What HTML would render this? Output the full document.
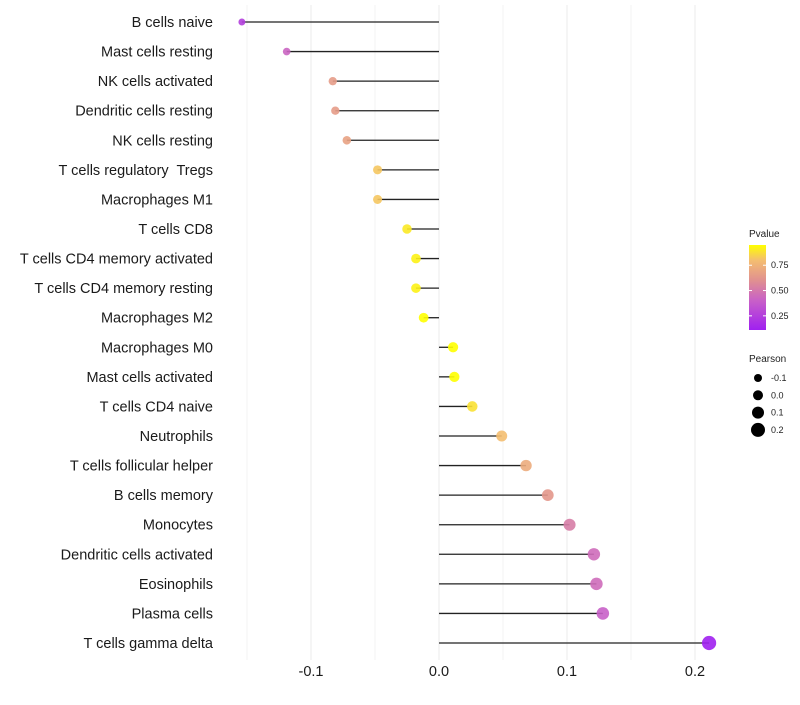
<!DOCTYPE html>
<html><head><meta charset="utf-8"><style>
body{margin:0;background:#fff;font-family:"Liberation Sans",sans-serif}
text{white-space:pre}
</style></head><body>
<svg id="c" width="800" height="700" xmlns="http://www.w3.org/2000/svg"></svg>
<script>
const categories=["B cells naive","Mast cells resting","NK cells activated","Dendritic cells resting","NK cells resting","T cells regulatory  Tregs","Macrophages M1","T cells CD8","T cells CD4 memory activated","T cells CD4 memory resting","Macrophages M2","Macrophages M0","Mast cells activated","T cells CD4 naive","Neutrophils","T cells follicular helper","B cells memory","Monocytes","Dendritic cells activated","Eosinophils","Plasma cells","T cells gamma delta"];
const pearson=[-0.154,-0.119,-0.083,-0.081,-0.072,-0.048,-0.048,-0.025,-0.018,-0.018,-0.012,0.011,0.012,0.026,0.049,0.068,0.085,0.102,0.121,0.123,0.128,0.211];
const pvalues=[0.25,0.42,0.65,0.65,0.68,0.82,0.82,0.9,0.92,0.92,0.95,0.96,0.96,0.88,0.8,0.72,0.63,0.52,0.45,0.45,0.4,0.11];
const xTicks=[-0.1,0.0,0.1,0.2];
const xTickLabels=["-0.1","0.0","0.1","0.2"];
const pTicks=[0.25,0.5,0.75];
const sizeLegend=[-0.1,0.0,0.1,0.2];

const svg=document.getElementById('c');
const NS="http://www.w3.org/2000/svg";
function mk(t,a,p){const e=document.createElementNS(NS,t);for(const k in a)e.setAttribute(k,a[k]);(p||svg).appendChild(e);return e;}
const x=v=>439+v*1280;
const y=i=>22+i*(643-22)/(categories.length-1);
const r=v=>Math.max(1.6,5+10*v);
const stops=[[0.11,[160,32,240]],[0.4,[200,96,200]],[0.6,[224,144,144]],[0.8,[244,190,112]],[0.95,[255,255,0]]];
function col(p){if(p<=stops[0][0])return `rgb(${stops[0][1]})`;for(let i=1;i<stops.length;i++){if(p<=stops[i][0]){const a=stops[i-1],b=stops[i],t=(p-a[0])/(b[0]-a[0]);return `rgb(${a[1].map((c,j)=>Math.round(c+(b[1][j]-c)*t))})`;}}return `rgb(${stops[stops.length-1][1]})`;}

for(let v=-0.15;v<=0.2001;v+=0.05){const g=mk('line',{x1:x(v),x2:x(v),y1:5,y2:660,stroke:Math.abs(Math.round(v*20)%2)==1?'#f3f3f3':'#ebebeb','stroke-width':1});

}
xTicks.forEach((v,i)=>{const t=mk('text',{x:x(v),y:676,'text-anchor':'middle','font-size':14.5,fill:'#1a1a1a'});t.textContent=xTickLabels[i];

});
categories.forEach((c,i)=>{
const t=mk('text',{x:213,y:y(i)+5,'text-anchor':'end','font-size':14.5,fill:'#1a1a1a'});t.textContent=c;


const l=mk('line',{x1:x(0),x2:x(pearson[i]),y1:y(i),y2:y(i),stroke:'#222','stroke-width':1.3});


const d=mk('circle',{cx:x(pearson[i]),cy:y(i),r:r(pearson[i]),fill:col(pvalues[i]),'fill-opacity':0.9});


});
const defs=mk('defs',{});const gr=mk('linearGradient',{id:'g',x1:0,y1:1,x2:0,y2:0},defs);
stops.forEach(s=>mk('stop',{offset:((s[0]-0.11)/(0.95-0.11)),'stop-color':`rgb(${s[1]})`},gr));
let tt=mk('text',{x:749,y:237,'font-size':10,fill:'#222'});tt.textContent='Pvalue';


const cb=mk('rect',{x:749,y:245,width:17,height:85,fill:'url(#g)'});


const py=p=>330-(p-0.11)/(0.95-0.11)*85;
pTicks.forEach(p=>{mk('line',{x1:749,x2:752,y1:py(p),y2:py(p),stroke:'#fff'});mk('line',{x1:763,x2:766,y1:py(p),y2:py(p),stroke:'#fff'});
const t=mk('text',{x:771,y:py(p)+3,'font-size':9,fill:'#222'});t.textContent=p.toFixed(2);

});
tt=mk('text',{x:749,y:362,'font-size':10,fill:'#222'});tt.textContent='Pearson';


sizeLegend.forEach((v,i)=>{const cy=378+i*17.3;const c=mk('circle',{cx:758,cy:cy,r:r(v),fill:'#000'});


const t=mk('text',{x:771,y:cy+3,'font-size':9,fill:'#222'});t.textContent=v.toFixed(1);

});
</script>
</body></html>
